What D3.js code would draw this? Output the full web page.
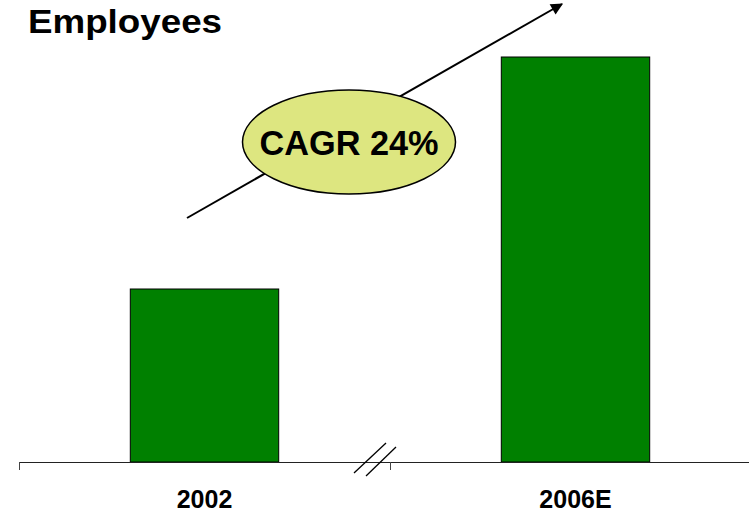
<!DOCTYPE html>
<html>
<head>
<meta charset="utf-8">
<script src="https://cdn.jsdelivr.net/npm/d3@7"></script>
<style>
html,body{margin:0;padding:0;background:#fff;}
svg{display:block;}
text{font-family:"Liberation Sans",Arial,Helvetica,sans-serif;font-weight:bold;fill:#000;}
</style>
</head>
<body>
<svg id="chart" width="749" height="515"></svg>
<script>
const categories = ["2002", "2006E"];
const employees = [1730, 4050];
const title = "Employees";
const cagrLabel = "CAGR 24%";

const svg = d3.select("#chart");
const baseY = 462;
const x = d3.scaleBand().domain(categories).range([19, 761]).padding(0);
const y = d3.scaleLinear().domain([0, d3.max(employees)]).range([baseY, 57]);
const barW = x.bandwidth() * 0.4;

// title
svg.append("text").attr("x", 28).attr("y", 33)
  .attr("font-size", 34).attr("textLength", 194).attr("lengthAdjust", "spacingAndGlyphs")
  .text(title);

// bars
svg.selectAll("rect.bar").data(categories).enter().append("rect")
  .attr("class", "bar")
  .attr("x", d => x(d) + (x.bandwidth() - barW) / 2)
  .attr("y", (d, i) => y(employees[i]))
  .attr("width", barW)
  .attr("height", (d, i) => baseY - y(employees[i]))
  .attr("fill", "#008000")
  .attr("stroke", "#000")
  .attr("stroke-width", 1);

// axis
const axis = d3.axisBottom(x).tickSizeOuter(0).tickSizeInner(0).tickFormat("");
const ag = svg.append("g").attr("transform", `translate(0,${baseY})`).call(axis);
ag.select(".domain").attr("stroke", "#222").attr("d", `M${x.range()[0]},0.5H${x.range()[1]}`);
ag.selectAll(".tick").remove();
ag.selectAll("line.bt").data(categories).enter().append("line")
  .attr("class", "bt")
  .attr("x1", d => Math.round(x(d)) + 0.5).attr("x2", d => Math.round(x(d)) + 0.5)
  .attr("y1", 0).attr("y2", 8).attr("stroke", "#444");

// category labels
svg.selectAll("text.cat").data(categories).enter().append("text")
  .attr("class", "cat")
  .attr("x", d => x(d) + x.bandwidth() / 2)
  .attr("y", 508)
  .attr("text-anchor", "middle")
  .attr("font-size", 25)
  .text(d => d);

// axis break marks
const bx = x(categories[1]);
[[-36, 11, -4, -19], [-24, 14, 6, -15]].forEach(s => {
  svg.append("line")
    .attr("x1", bx + s[0]).attr("y1", baseY + s[1])
    .attr("x2", bx + s[2]).attr("y2", baseY + s[3])
    .attr("stroke", "#000").attr("stroke-width", 1.3);
});

// arrow
const defs = svg.append("defs");
defs.append("marker").attr("id", "ah")
  .attr("viewBox", "0 0 10 10").attr("refX", 9).attr("refY", 5)
  .attr("markerWidth", 16).attr("markerHeight", 12).attr("markerUnits", "userSpaceOnUse")
  .attr("orient", "auto")
  .append("path").attr("d", "M0,0L10,5L0,10Z").attr("fill", "#000");
svg.append("line")
  .attr("x1", 187).attr("y1", 218).attr("x2", 562).attr("y2", 4)
  .attr("stroke", "#000").attr("stroke-width", 2)
  .attr("marker-end", "url(#ah)");

// CAGR ellipse
svg.append("ellipse")
  .attr("cx", 349).attr("cy", 142).attr("rx", 106.5).attr("ry", 52)
  .attr("fill", "#dde680").attr("stroke", "#000").attr("stroke-width", 1.5);
svg.append("text").attr("x", 349).attr("y", 155)
  .attr("text-anchor", "middle").attr("font-size", 35)
  .attr("textLength", 179).attr("lengthAdjust", "spacingAndGlyphs")
  .text(cagrLabel);
</script>
</body>
</html>
